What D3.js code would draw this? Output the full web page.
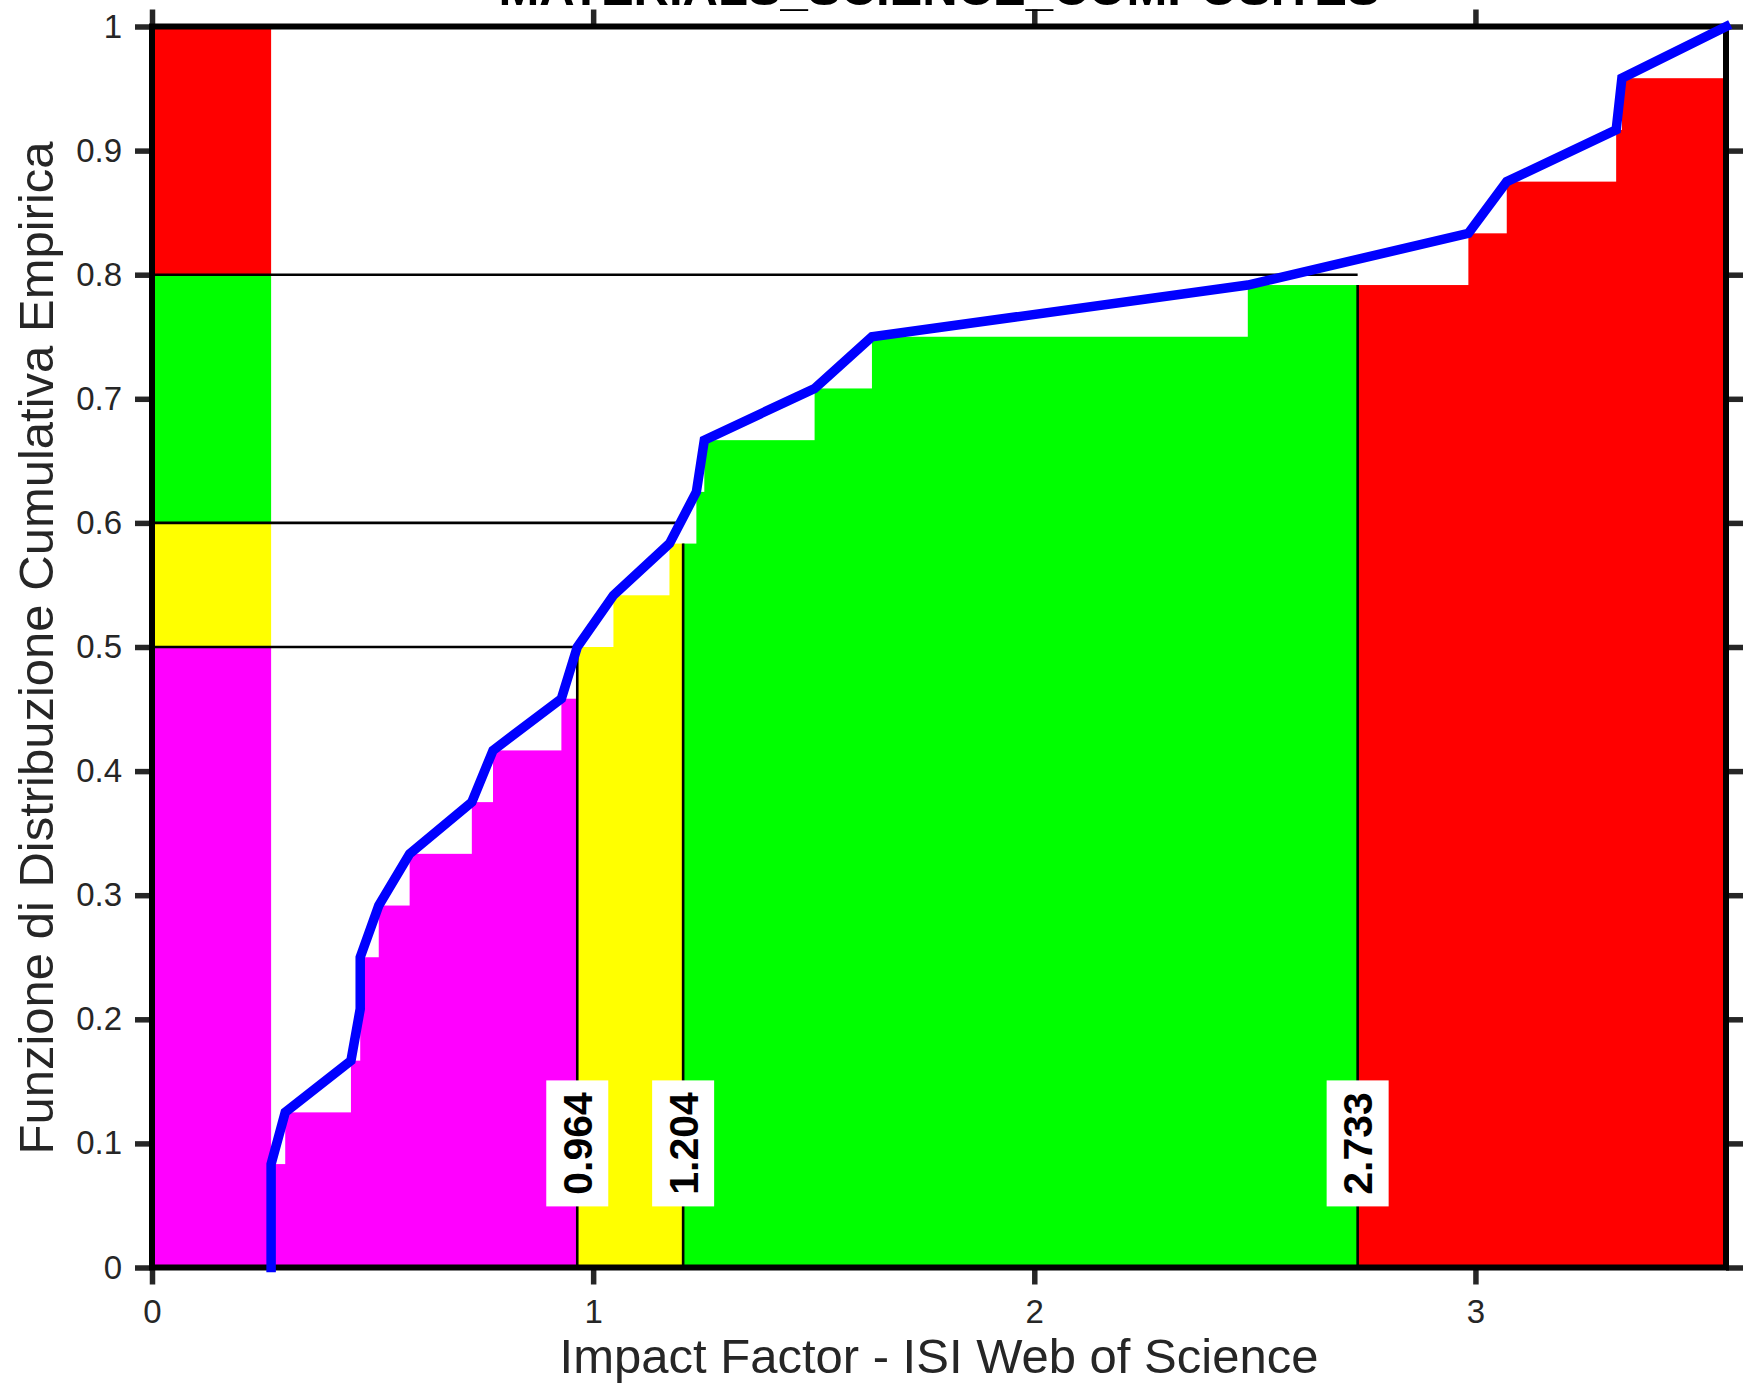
<!DOCTYPE html>
<html>
<head>
<meta charset="utf-8">
<script src="https://cdn.jsdelivr.net/npm/d3@7"></script>
<style>
  html, body { margin: 0; padding: 0; background: #fff; }
  svg { display: block; }
  text { font-family: "Liberation Sans", Arial, Helvetica, sans-serif; }
</style>
</head>
<body>
<svg id="chart" width="1747" height="1385"></svg>
<script>
// ---------------- data ----------------
const chartTitle = "MATERIALS_SCIENCE_COMPOSITES";
const xLabel = "Impact Factor - ISI Web of Science";
const yLabel = "Funzione di Distribuzione Cumulativa Empirica";
// sorted impact factors of the journals (24 values)
const impactFactors = [0.270, 0.270, 0.302, 0.451, 0.472, 0.472, 0.514, 0.584,
                       0.725, 0.773, 0.928, 0.964, 1.046, 1.173, 1.234, 1.252,
                       1.502, 1.632, 2.484, 2.984, 3.071, 3.319, 3.332, 3.568];
// quantile thresholds and their cumulative levels
const thresholds = [0.964, 1.204, 2.733];
const thresholdLevels = [0.5, 0.6, 0.8];
const thresholdLabels = ["0.964", "1.204", "2.733"];
const bandColors = ["#ff00ff", "#ffff00", "#00ff00", "#ff0000"];
const xTicks = [0, 1, 2, 3];
const yTicks = [0, 0.1, 0.2, 0.3, 0.4, 0.5, 0.6, 0.7, 0.8, 0.9, 1];
const yTickLabels = ["0", "0.1", "0.2", "0.3", "0.4", "0.5", "0.6", "0.7", "0.8", "0.9", "1"];

// ---------------- layout ----------------
const W = 1747, H = 1385;
const margin = { left: 152, right: 21, top: 26.5, bottom: 117.5 };
const iw = W - margin.left - margin.right;
const ih = H - margin.top - margin.bottom;
const textColor = "#262626";

const svg = d3.select("#chart");
const g = svg.append("g").attr("transform", `translate(${margin.left},${margin.top})`);

const n = impactFactors.length;
const xMax = d3.max(impactFactors);
const x = d3.scaleLinear().domain([0, xMax]).range([0, iw]);
const y = d3.scaleLinear().domain([0, 1]).range([ih, 0]);

const ecdf = v => impactFactors.filter(d => d <= v).length / n;
const uniq = Array.from(new Set(impactFactors)).sort((a, b) => a - b);

// ---------------- left colour strip ----------------
const levelEdges = [0, ...thresholdLevels, 1];
g.append("g").selectAll("rect").data(d3.range(bandColors.length)).join("rect")
  .attr("x", x(0))
  .attr("width", x(uniq[0]) - x(0))
  .attr("y", i => y(levelEdges[i + 1]))
  .attr("height", i => y(levelEdges[i]) - y(levelEdges[i + 1]) + 0.5)
  .attr("fill", i => bandColors[i]);

// ---------------- step fills coloured by band ----------------
const xEdges = [0, ...thresholds, xMax];
const pieces = [];
for (let k = 0; k < uniq.length - 1; k++) {
  const a = uniq[k], b = uniq[k + 1], h = ecdf(a);
  for (let j = 0; j < bandColors.length; j++) {
    const lo = Math.max(a, xEdges[j]), hi = Math.min(b, xEdges[j + 1]);
    if (hi > lo) pieces.push({ lo, hi, h, c: bandColors[j] });
  }
}
g.append("g").selectAll("rect").data(pieces).join("rect")
  .attr("x", d => x(d.lo))
  .attr("width", d => x(d.hi) - x(d.lo) + 1)
  .attr("y", d => y(d.h))
  .attr("height", d => y(0) - y(d.h))
  .attr("fill", d => d.c);

// ---------------- threshold lines ----------------
g.append("g").selectAll("line").data(thresholds).join("line")
  .attr("x1", d => x(d)).attr("x2", d => x(d))
  .attr("y1", y(0)).attr("y2", d => y(ecdf(d)))
  .attr("stroke", "#000").attr("stroke-width", 2.6);
g.append("g").selectAll("line").data(thresholds).join("line")
  .attr("x1", x(0)).attr("x2", d => x(d))
  .attr("y1", (d, i) => y(thresholdLevels[i])).attr("y2", (d, i) => y(thresholdLevels[i]))
  .attr("stroke", "#000").attr("stroke-width", 2.6);

// ---------------- axes ----------------
const tickLen = 17;
function styleAxis(sel) {
  sel.select(".domain").remove();
  sel.selectAll(".tick line").attr("stroke", textColor).attr("stroke-width", 5.5);
  sel.selectAll(".tick text").style("font-size", "33px").attr("fill", textColor);
}
g.append("g").attr("transform", `translate(0,${ih})`)
  .call(d3.axisBottom(x).tickValues(xTicks).tickFormat(d3.format("d")).tickSize(tickLen).tickPadding(15))
  .call(styleAxis);
g.append("g")
  .call(d3.axisTop(x).tickValues(xTicks).tickFormat("").tickSize(tickLen))
  .call(styleAxis);
g.append("g")
  .call(d3.axisLeft(y).tickValues(yTicks).tickFormat((d, i) => yTickLabels[i]).tickSize(tickLen).tickPadding(13))
  .call(styleAxis);
g.append("g").attr("transform", `translate(${iw},0)`)
  .call(d3.axisRight(y).tickValues(yTicks).tickFormat("").tickSize(tickLen))
  .call(styleAxis);

g.append("rect").attr("x", 0).attr("y", 0).attr("width", iw).attr("height", ih)
  .attr("fill", "none").attr("stroke", "#000").attr("stroke-width", 6);

// ---------------- threshold labels ----------------
const lab = g.append("g").selectAll("g").data(thresholds).join("g")
  .attr("transform", d => `translate(${x(d)},${y(0.1)})`);
lab.append("rect").attr("x", -31).attr("y", -63).attr("width", 62).attr("height", 126).attr("fill", "#fff");
lab.append("text").attr("transform", "rotate(-90)")
  .attr("text-anchor", "middle").attr("dy", "0.36em").attr("fill", "#000")
  .style("font-size", "41px").style("font-weight", "bold")
  .text((d, i) => thresholdLabels[i]);

// ---------------- ECDF line ----------------
const pts = [[impactFactors[0], 0], ...impactFactors.map((v, i) => [v, (i + 1) / n])];
g.append("path").datum(pts)
  .attr("d", d3.line().x(d => x(d[0])).y(d => y(d[1])))
  .attr("fill", "none").attr("stroke", "#0000ff").attr("stroke-width", 9.5)
  .attr("stroke-linejoin", "miter").attr("stroke-miterlimit", 4).attr("stroke-linecap", "square");

// ---------------- titles ----------------
svg.append("text").attr("x", margin.left + iw / 2).attr("y", 5)
  .attr("text-anchor", "middle").attr("fill", "#000")
  .style("font-size", "49px").style("font-weight", "bold")
  .text(chartTitle);
svg.append("text").attr("x", margin.left + iw / 2).attr("y", 1373)
  .attr("text-anchor", "middle").attr("fill", textColor).style("font-size", "49px")
  .text(xLabel);
svg.append("text").attr("transform", `translate(53,${margin.top + ih / 2 + 1}) rotate(-90)`)
  .attr("text-anchor", "middle").attr("fill", textColor).style("font-size", "49px")
  .text(yLabel);
</script>
</body>
</html>
